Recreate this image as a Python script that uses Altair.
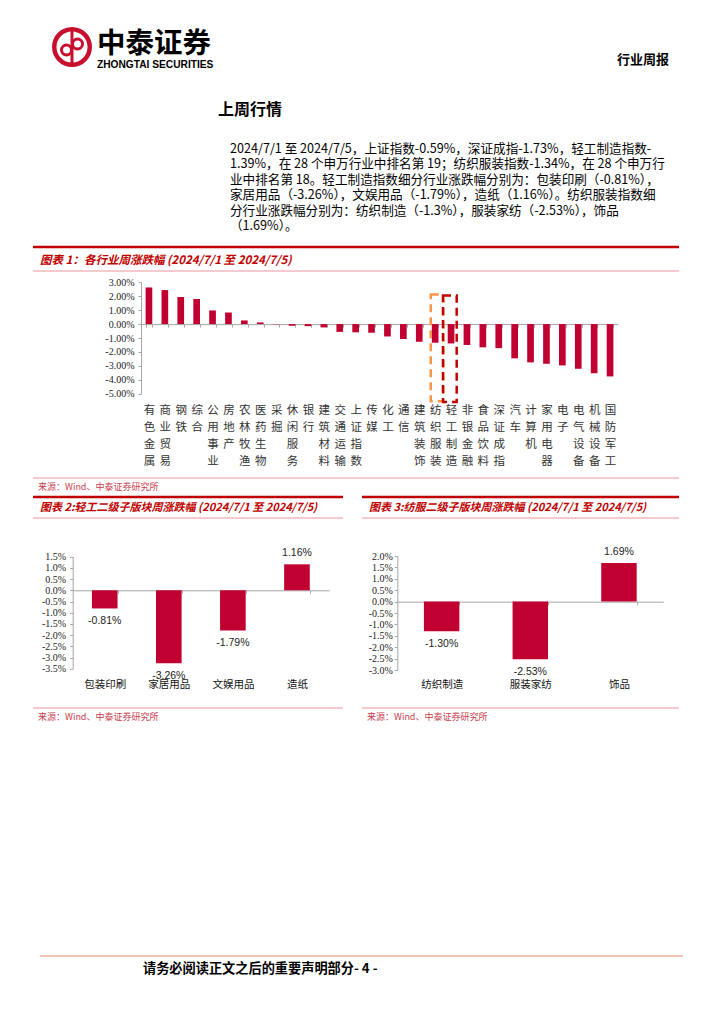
import altair as alt
import pandas as pd

W, H = 708, 1008
CJK = "Noto Sans CJK SC"
SERIF = "Liberation Serif"
SANS = "Liberation Sans"
BAR = "#C00030"
TRED = "#C00000"
PINK = "#F0B9BF"
SRC = "#C8404E"
AXC = "#A6A6A6"

# ---------------- data ----------------
cats1 = ["有色金属", "商业贸易", "钢铁", "综合", "公用事业", "房地产", "农林牧渔", "医药生物",
         "采掘", "休闲服务", "银行", "建筑材料", "交通运输", "上证指数", "传媒", "化工", "通信",
         "建筑装饰", "纺织服装", "轻工制造", "非银金融", "食品饮料", "深证成指", "汽车", "计算机",
         "家用电器", "电子", "电气设备", "机械设备", "国防军工"]
vals1 = [2.63, 2.44, 1.94, 1.80, 0.98, 0.83, 0.26, 0.12, -0.02, -0.12, -0.15, -0.24, -0.56,
         -0.59, -0.62, -0.89, -1.07, -1.27, -1.34, -1.39, -1.50, -1.67, -1.73, -2.46, -2.75,
         -2.85, -2.97, -3.21, -3.53, -3.76]
ticks1 = [-5, -4, -3, -2, -1, 0, 1, 2, 3]

cats2 = ["包装印刷", "家居用品", "文娱用品", "造纸"]
vals2 = [-0.81, -3.26, -1.79, 1.16]
ticks2 = [-3.5, -3.0, -2.5, -2.0, -1.5, -1.0, -0.5, 0.0, 0.5, 1.0, 1.5]

cats3 = ["纺织制造", "服装家纺", "饰品"]
vals3 = [-1.30, -2.53, 1.69]
ticks3 = [-3.0, -2.5, -2.0, -1.5, -1.0, -0.5, 0.0, 0.5, 1.0, 1.5, 2.0]

highlight_cats = ["纺织服装", "轻工制造"]
highlight_colors = ["#F79646", "#C00000"]
highlight_top = [2.12, 2.06]
highlight_bottom = [-5.55, -5.6]

brand_cn = "中泰证券"
brand_en = "ZHONGTAI SECURITIES"
report_type = "行业周报"
heading = "上周行情"
paragraph = [
    "2024/7/1 至 2024/7/5，上证指数-0.59%，深证成指-1.73%，轻工制造指数-",
    "1.39%，在 28 个申万行业中排名第 19；纺织服装指数-1.34%，在 28 个申万行",
    "业中排名第 18。轻工制造指数细分行业涨跌幅分别为：包装印刷（-0.81%），",
    "家居用品（-3.26%），文娱用品（-1.79%），造纸（1.16%）。纺织服装指数细",
    "分行业涨跌幅分别为：纺织制造（-1.3%），服装家纺（-2.53%），饰品",
    "（1.69%）。",
]
title1 = "图表 1：各行业周涨跌幅 (2024/7/1 至 2024/7/5)"
title2 = "图表 2:轻工二级子版块周涨跌幅 (2024/7/1 至 2024/7/5)"
title3 = "图表 3:纺服二级子版块周涨跌幅 (2024/7/1 至 2024/7/5)"
source = "来源：Wind、中泰证券研究所"
footer = "请务必阅读正文之后的重要声明部分- 4 -"

ONE = pd.DataFrame({"k": [0]})


def P(v):
    """page coordinate -> canvas coordinate"""
    return v - 8


def text(s, x, y, size, color="#000", font=CJK, weight="normal", style="normal",
         align="left", baseline="middle"):
    return alt.Chart(pd.DataFrame({"t": [s]})).mark_text(
        font=font, fontSize=size, color=color, fontWeight=weight, fontStyle=style,
        align=align, baseline=baseline
    ).encode(x=alt.value(P(x)), y=alt.value(P(y)), text="t:N")


def hline(x1, x2, y, color, w):
    return alt.Chart(ONE).mark_rule(color=color, strokeWidth=w).encode(
        x=alt.value(P(x1)), x2=alt.value(P(x2)), y=alt.value(P(y)))


def pct_expr(field, dec):
    return f"(datum.{field} < 0 ? '-' : '') + format(abs(datum.{field}), '.{dec}f') + '%'"


def panel(cats, vals, x_rng, y_rng, y_dom, y_ticks, y_dec, pad_inner, zero_y,
          ylab_size, ylab_pad, xlab_kw, value_labels=True, extra=None):
    df = pd.DataFrame({"cat": cats, "v": vals})
    base = alt.Chart(df)

    def xs():
        return alt.Scale(domain=cats, range=[P(x_rng[0]), P(x_rng[1])],
                         paddingInner=pad_inner, paddingOuter=pad_inner / 2)

    def ys():
        return alt.Scale(domain=y_dom, range=[P(y_rng[0]), P(y_rng[1])], nice=False, zero=False)

    xax = alt.Axis(orient="bottom", offset=-(H - P(zero_y)), domain=True, domainColor=AXC,
                   domainWidth=1, ticks=True, tickColor=AXC, tickSize=3, tickBand="extent",
                   labelAngle=0, labelOverlap=False, title=None, grid=False, **xlab_kw)
    yax = alt.Axis(orient="left", offset=-P(x_rng[0]), values=y_ticks,
                   labelExpr=pct_expr("value", y_dec), labelFont=SERIF,
                   labelFontSize=ylab_size, labelColor="#222", labelPadding=ylab_pad,
                   tickSize=3, tickColor=AXC, domainColor=AXC, grid=False, title=None,
                   labelOverlap=False)
    bars = base.mark_bar(color=BAR).encode(
        x=alt.X("cat:N", sort=cats, scale=xs(), axis=xax),
        y=alt.Y("v:Q", scale=ys(), axis=yax),
        y2=alt.datum(0),
    )
    layers = [bars]
    if value_labels:
        lab = base.transform_calculate(lbl=pct_expr("v", 2))
        for cond, dy in [("datum.v >= 0", -11), ("datum.v < 0", 13)]:
            layers.append(lab.transform_filter(cond).mark_text(
                font=SANS, fontSize=10.5, color="#222", dy=dy).encode(
                x=alt.X("cat:N", sort=cats, scale=xs(), axis=None),
                y=alt.Y("v:Q", scale=ys(), axis=None), text="lbl:N"))
    if extra is not None:
        layers.extend(extra(xs, ys))
    return layers


def highlight(xs, ys):
    out = []
    for cat, col, top, bot, w, off in zip(highlight_cats, highlight_colors, highlight_top,
                                          highlight_bottom, [12.6, 13.7], [1.9, -1.2]):
        df = pd.DataFrame({"cat": [cat], "top": [top], "bot": [bot]})
        out.append(alt.Chart(df).mark_bar(width=w, xOffset=off, fillOpacity=0, stroke=col,
                                          strokeWidth=2.5, strokeDash=[8, 5]).encode(
            x=alt.X("cat:N", scale=xs(), axis=None),
            y=alt.Y("top:Q", scale=ys(), axis=None),
            y2="bot:Q",
        ))
    return out


# ---------------- decorations ----------------
deco = []
LR = "#C8102E"
deco.append(alt.Chart(ONE).mark_arc(radius=20, radius2=15.5, theta=0, theta2=6.2832, color=LR)
            .encode(x=alt.value(P(72)), y=alt.value(P(47))))
deco.append(alt.Chart(ONE).mark_arc(radius=6.5, radius2=3.5, theta=0, theta2=6.2832, color=LR)
            .encode(x=alt.value(P(66.5)), y=alt.value(P(50))))
deco.append(alt.Chart(ONE).mark_arc(radius=6.5, radius2=3.5, theta=0, theta2=6.2832, color=LR)
            .encode(x=alt.value(P(77.5)), y=alt.value(P(44))))
deco.append(alt.Chart(ONE).mark_rule(color=LR, strokeWidth=3).encode(
    x=alt.value(P(72)), y=alt.value(P(31)), y2=alt.value(P(63))))
deco.append(text(brand_cn, 97, 43.5, 28.5, weight="bold"))
deco.append(text(brand_en, 97, 64.5, 10.2, font=SANS, weight="bold"))
deco.append(text(report_type, 669, 60, 13, weight="bold", align="right"))

deco.append(text(heading, 218, 110, 16, weight="bold"))
for i, line in enumerate(paragraph):
    deco.append(text(line, 230, 149 + i * 15.4, 12.6))

deco.append(hline(33, 679, 247, TRED, 2.5))
deco.append(text(title1, 40, 261, 11.5, color=TRED, weight="bold", style="italic"))
deco.append(hline(33, 679, 271, PINK, 1.5))
deco.append(hline(33, 679, 478, PINK, 1.5))
deco.append(text(source, 38, 487, 9, color=SRC))

for x1, x2, t in [(33, 343, title2), (362, 679, title3)]:
    deco.append(hline(x1, x2, 497, TRED, 2.5))
    deco.append(text(t, x1 + 7, 508, 11, color=TRED, weight="bold", style="italic"))
    deco.append(hline(x1, x2, 518, PINK, 1.5))
    deco.append(hline(x1, x2, 708, PINK, 1.5))
    deco.append(text(source, x1 + 5, 717, 9, color=SRC))

deco.append(hline(40, 683, 956, "#F4C6B4", 2))
deco.append(text(footer, 143, 969, 13.2, weight="bold"))

# ---------------- charts ----------------
p1 = panel(cats1, vals1, (141, 618), (393.7, 282.3), [-5, 3], ticks1, 2, 0.58, 324.1,
           10, 4,
           dict(labelExpr="split(datum.label, '')", labelLineHeight=17.3, labelPadding=77,
                labelFont=CJK, labelFontSize=11.5, labelColor="#333"),
           value_labels=False, extra=highlight)

p2 = panel(cats2, vals2, (72.7, 329), (668.7, 556.7), [-3.5, 1.5], ticks2, 1, 0.6, 590.3,
           10, 4,
           dict(labelPadding=86, labelFont=CJK, labelFontSize=10.5, labelColor="#111"))

p3 = panel(cats3, vals3, (397.3, 663.3), (670, 556), [-3.0, 2.0], ticks3, 1, 0.6, 601.7,
           10, 2,
           dict(labelPadding=75, labelFont=CJK, labelFontSize=10.5, labelColor="#111"))

chart = alt.layer(*deco, *p1, *p2, *p3).resolve_scale(
    x="independent", y="independent"
).properties(
    width=W, height=H, autosize="none", padding=0, background="white"
).configure_view(stroke=None)

chart.save("out.html", embed_options={"renderer": "svg", "actions": False})
